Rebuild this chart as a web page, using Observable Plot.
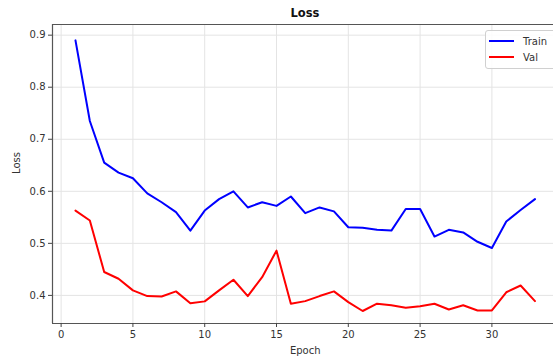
<!DOCTYPE html>
<html>
<head>
<meta charset="utf-8">
<script src="https://cdn.jsdelivr.net/npm/d3@7"></script>
<script src="https://cdn.jsdelivr.net/npm/@observablehq/plot@0.6"></script>
<style>
  html, body { margin: 0; padding: 0; background: #fff; overflow: hidden; }
  #wrap { position: relative; width: 553px; height: 360px; font-family: "DejaVu Sans", sans-serif; }
  #title { position: absolute; left: 0; width: 610px; top: 6px; text-align: center; font-weight: bold; font-size: 11.5px; color: #111; }
  #legend { position: absolute; left: 485px; top: 30px; width: 90px; height: 37px; border: 1px solid #d0d0d0; border-radius: 3px; background: rgba(255,255,255,0.85); font-size: 10px; color: #333; }
  .li { position: absolute; left: 3px; height: 14px; display: flex; align-items: center; }
  .sw { width: 25px; height: 2px; margin-right: 9px; }
</style>
</head>
<body>
<div id="wrap">
  <div id="chart"></div>
  <div id="title">Loss</div>
  <div id="legend">
    <div class="li" style="top:3px"><div class="sw" style="background:#0000ff"></div><span>Train</span></div>
    <div class="li" style="top:19px"><div class="sw" style="background:#ff0000"></div><span>Val</span></div>
  </div>
</div>
<script>
const epochs = Array.from({length: 33}, (_, i) => i + 1);
const trainLoss = [0.890, 0.735, 0.655, 0.636, 0.625, 0.596, 0.579, 0.560, 0.5245, 0.563,
                   0.585, 0.600, 0.569, 0.579, 0.572, 0.590, 0.558, 0.569, 0.5615, 0.531,
                   0.530, 0.526, 0.5245, 0.566, 0.566, 0.513, 0.526, 0.521, 0.503, 0.491,
                   0.542, 0.564, 0.585];
const valLoss = [0.563, 0.544, 0.445, 0.432, 0.4096, 0.3987, 0.398, 0.4077, 0.385, 0.3885,
                 0.4096, 0.430, 0.3987, 0.435, 0.486, 0.384, 0.389, 0.3987, 0.4077, 0.387,
                 0.370, 0.384, 0.381, 0.3764, 0.379, 0.384, 0.373, 0.381, 0.371, 0.371,
                 0.406, 0.419, 0.389];
const xTicks = [0, 5, 10, 15, 20, 25, 30];
const yTicks = [0.4, 0.5, 0.6, 0.7, 0.8, 0.9];
const seriesNames = ["Train", "Val"];
const seriesColors = ["#0000ff", "#ff0000"];

const rows = [];
epochs.forEach((e, i) => {
  rows.push({epoch: e, loss: trainLoss[i], series: seriesNames[0]});
  rows.push({epoch: e, loss: valLoss[i], series: seriesNames[1]});
});

const xDom = [-0.6, 34.29];
const yDom = [0.346, 0.9205];

const chart = Plot.plot({
  width: 553,
  height: 360,
  marginLeft: 52,
  marginRight: 0,
  marginTop: 24,
  marginBottom: 37,
  style: {fontFamily: "DejaVu Sans, sans-serif", fontSize: "10px", color: "#333", background: "white"},
  x: {domain: xDom, label: null},
  y: {domain: yDom, label: null},
  color: {domain: seriesNames, range: seriesColors},
  marks: [
    Plot.gridX(xTicks, {stroke: "#e4e4e4", strokeOpacity: 1}),
    Plot.gridY(yTicks, {stroke: "#e4e4e4", strokeOpacity: 1}),
    Plot.line(rows, {x: "epoch", y: "loss", z: "series", stroke: "series", strokeWidth: 2, curve: "linear"}),
    Plot.ruleX([xDom[0]], {stroke: "#555", strokeWidth: 1.2}),
    Plot.ruleY([yDom[0], yDom[1]], {stroke: "#555", strokeWidth: 1.2}),
    Plot.axisX(xTicks, {tickSize: 4, tickPadding: 3, label: null, stroke: "#444", fill: "#333", fontSize: 10}),
    Plot.axisY(yTicks, {tickSize: 4, tickPadding: 3, label: null, stroke: "#444", fill: "#333", fontSize: 10, tickFormat: d => d.toFixed(1)}),
    Plot.text(["Epoch"], {x: () => (xDom[0] + 34.6) / 2, frameAnchor: "bottom", dy: 30, fill: "#333", fontSize: 10}),
    Plot.text(["Loss"], {frameAnchor: "left", dx: -36, rotate: -90, fill: "#333", fontSize: 10})
  ]
});
document.getElementById("chart").appendChild(chart);
</script>
</body>
</html>
